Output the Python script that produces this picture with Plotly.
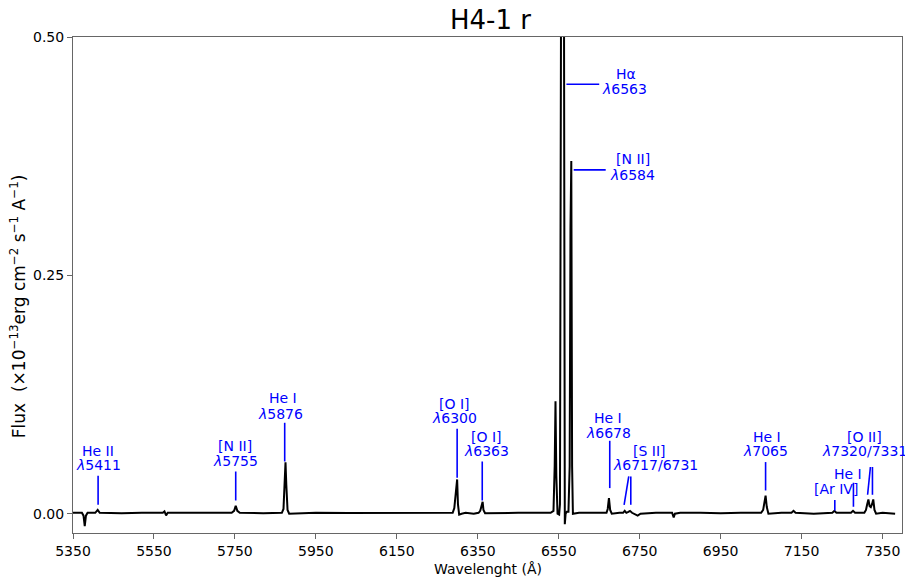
import plotly.graph_objects as go

# ---------------- data ----------------
wavelength = [
    5350, 5372, 5376, 5379, 5382, 5386, 5405, 5411, 5416, 5470,
    5520, 5572, 5576, 5580, 5584, 5650, 5700, 5742, 5748, 5752,
    5756, 5762, 5820, 5866, 5870, 5873, 5875, 5877, 5880, 5884,
    5950, 6030, 6100, 6200, 6288, 6292, 6296, 6299, 6301, 6304,
    6310, 6320, 6340, 6352, 6356, 6359, 6362, 6364, 6368, 6450,
    6530, 6537, 6540, 6542, 6544, 6547, 6551, 6553, 6556, 6558,
    6560, 6562, 6564, 6565, 6567, 6570, 6574, 6577, 6579, 6581,
    6583, 6585, 6600, 6650, 6668, 6671, 6674, 6677, 6681, 6700,
    6709, 6713, 6717, 6722, 6726, 6731, 6740, 6745, 6752, 6790,
    6830, 6834, 6837, 6850, 6900, 6950, 7000, 7050, 7055, 7058,
    7061, 7064, 7068, 7100, 7125, 7130, 7135, 7180, 7226, 7231,
    7236, 7260, 7272, 7277, 7282, 7305, 7309, 7312, 7315, 7318,
    7321, 7324, 7327, 7330, 7334, 7350, 7370, 7381,
]
flux = [
    0.001, 0.001, -0.002, -0.013, -0.002, 0.001, 0.001, 0.004, 0.001, 0.0005,
    0.001, 0.001, 0.0025, -0.0017, 0.001, 0.0008, 0.001, 0.001, 0.003, 0.0084,
    0.003, 0.001, 0.0005, 0.001, 0.005, 0.03, 0.054, 0.03, 0.004, 0.0,
    0.001, 0.0008, 0.001, 0.0008, 0.001, 0.006, 0.02, 0.036, 0.01, -0.001,
    0.0, 0.001, 0.0, 0.001, 0.003, 0.0075, 0.0125, 0.004, 0.0005, 0.001,
    0.001, 0.003, 0.05, 0.118, 0.04, 0.0, -0.001, 0.01, 0.6, 1.4,
    1.6, 0.8, 0.05, -0.011, 0.0, 0.002, 0.002, 0.05, 0.3, 0.37,
    0.05, 0.0, 0.001, 0.001, 0.001, 0.005, 0.0165, 0.004, 0.0, 0.001,
    0.001, 0.003, 0.001, 0.002, 0.003, 0.001, -0.001, -0.002, 0.0, 0.001,
    0.001, -0.004, 0.0, 0.001, 0.001, 0.0005, 0.001, 0.001, 0.004, 0.01,
    0.019, 0.007, 0.0, 0.001, 0.001, 0.003, 0.001, 0.0, 0.001, 0.003,
    0.001, 0.001, 0.001, 0.003, 0.001, 0.001, 0.004, 0.01, 0.015, 0.008,
    0.007, 0.01, 0.015, 0.004, 0.0, 0.001, 0.0, 0.0,
]

x_ticks = [5350, 5550, 5750, 5950, 6150, 6350, 6550, 6750, 6950, 7150, 7350]
y_ticks = [0.0, 0.25, 0.5]
y_tick_labels = ["0.00", "0.25", "0.50"]

title_text = "H4-1 r"
x_title = "Wavelenght (Å)"
y_title = ("Flux&nbsp; (×10<sup>−13</sup>erg&nbsp;cm<sup>−2</sup>&nbsp;s<sup>−1</sup>&nbsp;"
           "A<sup>−1</sup>)")

# line-identification labels (text, x, y) -- one entry per text row
label_text = [
    "He II", "<i>λ</i>5411",
    "[N II]", "<i>λ</i>5755",
    "He I", "<i>λ</i>5876",
    "[O I]", "<i>λ</i>6300",
    "[O I]", "<i>λ</i>6363",
    "Hα", "<i>λ</i>6563",
    "[N II]", "<i>λ</i>6584",
    "He I", "<i>λ</i>6678",
    "[S II]", "<i>λ</i>6717/6731",
    "He I", "<i>λ</i>7065",
    "[Ar IV]",
    "He I",
    "[O II]", "<i>λ</i>7320/7331",
]
label_x = [
    5412, 5412,
    5751, 5751,
    5868, 5862,
    6293, 6293,
    6372, 6372,
    6716, 6712,
    6734, 6731,
    6672, 6672,
    6773, 6790,
    7064, 7060,
    7234,
    7265,
    7306, 7306,
]
label_y = [
    0.0655, 0.0508,
    0.0713, 0.0552,
    0.1216, 0.1048,
    0.1153, 0.1009,
    0.0804, 0.0653,
    0.4614, 0.4455,
    0.3724, 0.3550,
    0.1003, 0.0852,
    0.0653, 0.0506,
    0.0804, 0.0653,
    0.0262,
    0.0419,
    0.0807, 0.0653,
]

# leader lines (x0, y0, x1, y1)
seg_x0 = [5412, 5752, 5873, 6299, 6361, 6569, 6587, 6676, 6723, 6728, 7061, 7232, 7278, 7320, 7325]
seg_y0 = [0.0398, 0.0443, 0.0954, 0.0891, 0.0548, 0.4504, 0.3606, 0.0765, 0.0391, 0.0391, 0.0542, 0.0144, 0.0325, 0.0490, 0.0490]
seg_x1 = [5412, 5752, 5873, 6299, 6361, 6650, 6666, 6676, 6711.5, 6728, 7061, 7232, 7278, 7313, 7325]
seg_y1 = [0.0094, 0.0139, 0.0548, 0.0377, 0.0139, 0.4504, 0.3606, 0.0269, 0.0094, 0.0094, 0.0244, 0.0035, 0.0073, 0.0199, 0.0199]

# ---------------- figure ----------------
FONT = "DejaVu Sans"
LABEL_BLUE = "#0000ff"
AXIS_GREY = "#666666"

fig = go.Figure()
fig.add_trace(go.Scatter(
    x=wavelength, y=flux, mode="lines",
    line=dict(color="black", width=2),
    showlegend=False, hoverinfo="skip",
))

shapes = []
for a, b, c, d in zip(seg_x0, seg_y0, seg_x1, seg_y1):
    shapes.append(dict(type="line", xref="x", yref="y", x0=a, y0=b, x1=c, y1=d,
                       line=dict(color=LABEL_BLUE, width=1.6)))

annotations = []
for t, x, y in zip(label_text, label_x, label_y):
    annotations.append(dict(text=t, x=x, y=y, xref="x", yref="y",
                            xanchor="center", yanchor="middle", showarrow=False,
                            font=dict(family=FONT, size=14, color=LABEL_BLUE)))

# axis titles as annotations for exact placement
annotations.append(dict(text=x_title, x=0.5, y=-0.0716, xref="paper", yref="paper",
                        xanchor="center", yanchor="middle", showarrow=False,
                        font=dict(family=FONT, size=14, color="black")))
annotations.append(dict(text=y_title, x=-0.0655, y=0.4567, xref="paper", yref="paper",
                        xanchor="center", yanchor="middle", showarrow=False,
                        textangle=-90,
                        font=dict(family=FONT, size=17, color="black")))

fig.update_layout(
    width=905, height=583,
    margin=dict(l=73, r=3, t=37, b=50, autoexpand=False),
    paper_bgcolor="white", plot_bgcolor="white",
    font=dict(family=FONT, size=14, color="black"),
    title=dict(text=title_text, x=490.5 / 905, xref="container", xanchor="center",
               y=1 - 20 / 583, yref="container", yanchor="middle",
               font=dict(family=FONT, size=26, color="black")),
    shapes=shapes,
    annotations=annotations,
    showlegend=False,
)
fig.update_xaxes(
    range=[5350, 7398], tickvals=x_ticks, ticks="outside", ticklen=5, tickwidth=1,
    tickcolor=AXIS_GREY, showline=True, linecolor=AXIS_GREY, linewidth=1, mirror=True,
    showgrid=False, zeroline=False, automargin=False,
    tickfont=dict(family=FONT, size=14, color="black"),
)
fig.update_yaxes(
    range=[-0.0202, 0.5], tickvals=y_ticks, ticktext=y_tick_labels, ticks="outside",
    ticklen=5, tickwidth=1, tickcolor=AXIS_GREY, showline=True, linecolor=AXIS_GREY,
    linewidth=1, mirror=True, showgrid=False, zeroline=False, automargin=False,
    tickfont=dict(family=FONT, size=14, color="black"),
)

fig.write_html("out.html", config={"displayModeBar": False},
               post_script="document.body.style.margin='0';document.body.style.overflow='hidden';")
